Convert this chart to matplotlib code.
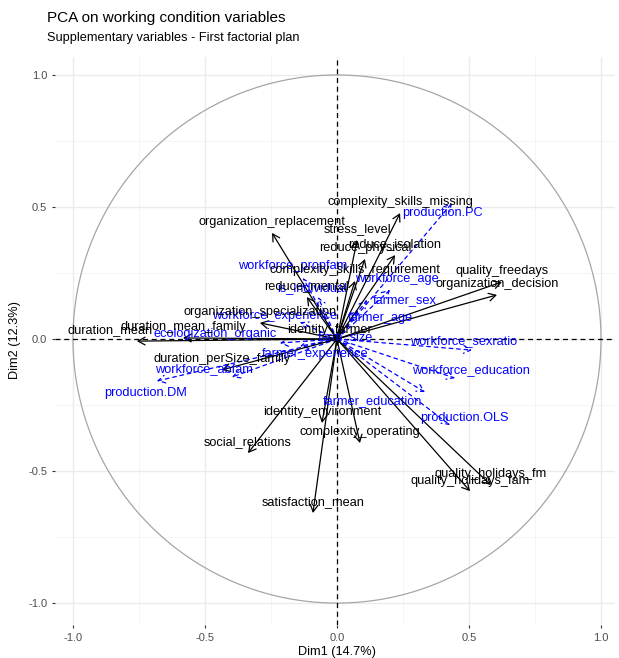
import matplotlib
matplotlib.use('Agg')
import matplotlib.pyplot as plt
import numpy as np

plt.rcParams['font.family'] = ['Liberation Sans', 'DejaVu Sans']

# ---------------- data ----------------
title = "PCA on working condition variables"
subtitle = "Supplementary variables - First factorial plan"
x_label = "Dim1 (14.7%)"
y_label = "Dim2 (12.3%)"
tick_values = [-1.0, -0.5, 0.0, 0.5, 1.0]
tick_labels = ["-1.0", "-0.5", "0.0", "0.5", "1.0"]

active_names = [
    "complexity_skills_missing", "organization_replacement", "stress_level",
    "reduce_isolation", "reduce_physical", "complexity_skills_requirement",
    "reduce_mental", "quality_freedays", "organization_decision",
    "organization_specialization", "identity_farmer", "duration_mean",
    "duration_mean_family", "duration_perSize_family", "identity_environment",
    "social_relations", "complexity_operating", "satisfaction_mean",
    "quality_holidays_fm", "quality_holidays_fam",
]
active_dim1 = [0.239, -0.246, 0.076, 0.220, 0.106, 0.068, -0.114, 0.625, 0.606,
               -0.292, -0.027, -0.758, -0.583, -0.436, -0.057, -0.337, 0.087,
               -0.091, 0.583, 0.504]
active_dim2 = [0.477, 0.402, 0.375, 0.318, 0.303, 0.220, 0.159, 0.216, 0.167,
               0.061, -0.004, -0.008, 0.004, -0.117, -0.318, -0.432, -0.394,
               -0.659, -0.553, -0.576]

sup_names = [
    "production.PC", "workforce_propfam", "is_individual", "workforce_age",
    "farmer_sex", "farmer_age", "workforce_experience", "ecologization_organic",
    "farmer_experience", "farm_size", "workforce_abfam", "production.DM",
    "workforce_sexratio", "workforce_education", "farmer_education",
    "production.OLS",
]
sup_dim1 = [0.436, -0.129, -0.072, 0.201, 0.114, 0.080, -0.140, -0.216, -0.140,
            0.011, -0.398, -0.682, 0.511, 0.447, 0.333, 0.428]
sup_dim2 = [0.515, 0.231, 0.159, 0.186, 0.148, 0.110, 0.064, -0.015, -0.027,
            -0.011, -0.144, -0.159, -0.042, -0.148, -0.201, -0.326]

# ---------------- layout (label nudges, data units) ----------------
active_label_nudge = {"duration_mean": (-0.102, 0.042)}
default_nudge = (0.0, 0.040)
sup_label_nudge = [(-0.038, -0.038), (-0.038, 0.045), (-0.023, 0.034), (0.027, 0.042),
                   (0.144, 0.0), (0.083, -0.030), (-0.098, 0.023), (-0.246, 0.034),
                   (0.057, -0.030), (0.023, 0.019), (-0.106, 0.030), (-0.045, -0.045),
                   (-0.030, 0.034), (0.061, 0.030), (-0.200, -0.034), (0.053, 0.027)]

# ---------------- figure ----------------
W, H = 619, 658
fig = plt.figure(figsize=(W / 100, H / 100), dpi=100)
ax = fig.add_axes([55 / W, 1 - 625 / H, 560 / W, 568 / H])
ax.set_xlim(-1.068, 1.053)
ax.set_ylim(-1.083, 1.068)

# grid
for v in [-0.75, -0.25, 0.25, 0.75]:
    ax.axvline(v, color='#F2F2F2', lw=0.5, zorder=0)
    ax.axhline(v, color='#F2F2F2', lw=0.5, zorder=0)
for v in tick_values:
    ax.axvline(v, color='#EBEBEB', lw=1.0, zorder=0)
    ax.axhline(v, color='#EBEBEB', lw=1.0, zorder=0)

# circle
t = np.linspace(0, 2 * np.pi, 400)
ax.plot(np.cos(t), np.sin(t), color='#A6A6A6', lw=0.9, zorder=1)

# axes lines
ax.axhline(0, color='black', lw=0.9, ls=(0, (4, 3)), zorder=1)
ax.axvline(0, color='black', lw=0.9, ls=(0, (4, 3)), zorder=1)

fs = 9.2
arrow_style = '->,head_length=0.5,head_width=0.28'
# supplementary (blue dashed)
for name, x, y, (dx, dy) in zip(sup_names, sup_dim1, sup_dim2, sup_label_nudge):
    ax.annotate('', xy=(x, y), xytext=(0, 0),
                arrowprops=dict(arrowstyle=arrow_style, color='blue', lw=0.9,
                                ls=(0, (3, 3)), shrinkA=0, shrinkB=0), zorder=2)
    ax.text(x + dx, y + dy, name, color='blue', fontsize=fs, ha='center',
            va='center', zorder=4)

# active (black)
for name, x, y in zip(active_names, active_dim1, active_dim2):
    ax.annotate('', xy=(x, y), xytext=(0, 0),
                arrowprops=dict(arrowstyle=arrow_style, color='black', lw=0.9,
                                shrinkA=0, shrinkB=0), zorder=3)
    dx, dy = active_label_nudge.get(name, default_nudge)
    ax.text(x + dx, y + dy, name, color='black', fontsize=fs, ha='center',
            va='center', zorder=4)

# ticks
ax.set_xticks(tick_values)
ax.set_xticklabels(tick_labels)
ax.set_yticks(tick_values)
ax.set_yticklabels(tick_labels)
ax.tick_params(axis='both', length=2.5, width=0.8, color='#333333',
               labelcolor='#4D4D4D', labelsize=8, pad=3)
for s in ax.spines.values():
    s.set_visible(False)
ax.set_facecolor('white')

fig.text(337 / W, 1 - 652 / H, x_label, ha='center', va='center', fontsize=9.2)
fig.text(15 / W, 1 - 340 / H, y_label, ha='center', va='center', fontsize=9.2,
         rotation=90)
fig.text(47 / W, 1 - 18 / H, title, ha='left', va='center', fontsize=11)
fig.text(47 / W, 1 - 38 / H, subtitle, ha='left', va='center', fontsize=9.2)

fig.savefig('out.png', dpi=100)
